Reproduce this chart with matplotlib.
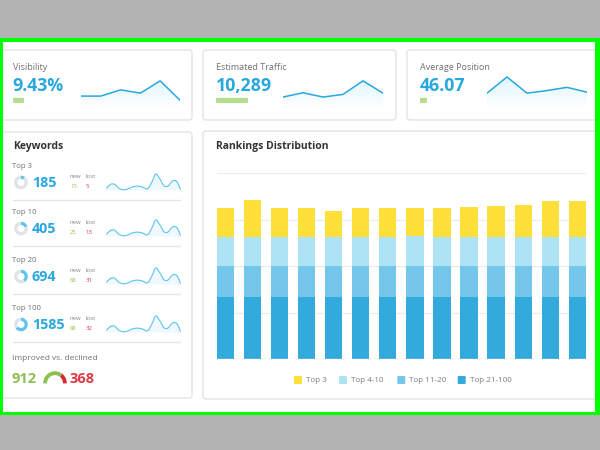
import matplotlib
matplotlib.use("Agg")
import matplotlib.pyplot as plt
import numpy as np
from matplotlib.patches import Rectangle, FancyBboxPatch, Wedge, PathPatch, Polygon
from matplotlib.path import Path
from matplotlib.colors import LinearSegmentedColormap

plt.rcParams["font.family"] = ["Open Sans", "DejaVu Sans"]

# ---- data ----
metric_names = ["Visibility", "Estimated Traffic", "Average Position"]
metric_values = ["9.43%", "10,289", "46.07"]
metric_trend = [11, 32, 7]
visibility_spark = [12.3, 12.3, 18.7, 15.3, 28.0, 8.0]
traffic_spark = [11.3, 15.7, 11.3, 14.0, 28.0, 15.3]
position_spark = [15.3, 32.0, 15.3, 18.0, 21.3, 16.3]

kw_labels = ["Top 3", "Top 10", "Top 20", "Top 100"]
kw_counts = ["185", "405", "694", "1585"]
kw_new = ["15", "25", "68", "88"]
kw_lost = ["5", "13", "31", "32"]
kw_share = [0.10, 0.20, 0.40, 0.65]
kw_spark = [2, 6, 6, 2.3, 0.7, 1.3, 3, 4.1, 4.1, 3, 1.7, 8, 16, 11, 4.5, 4.5, 9, 9, 1]

improved = 912
declined = 368

rank_groups = ["Top 3", "Top 4-10", "Top 11-20", "Top 21-100"]
top21_100 = [66.5, 66.5, 66.5, 66.5, 66.5, 66.5, 66.5, 66.5, 66.5, 67, 66.5, 66.5, 66.5, 66.5]
top11_20 = [33.3] * 14
top4_10 = [31.2, 31.2, 31.2, 31.2, 31.2, 31.2, 31.2, 32, 31.2, 31.2, 31.2, 31.2, 31.2, 31.2]
top3 = [31, 39.5, 31.5, 31.5, 28, 31, 31.5, 31, 31, 32, 33.7, 34.7, 38.7, 38.7]

BLUE = "#29a7df"
LIGHT_LINE = "#5bc3ec"
GREEN = "#8cc152"
RED = "#da3b44"
GREY_TXT = "#707070"
rank_colors = ["#ffe03b", "#aee3f6", "#74c7eb", "#33aadc"]

W, H = 600, 450
fig = plt.figure(figsize=(6, 4.5), dpi=100, facecolor="#b3b3b3")
base = fig.add_axes([0, 0, 1, 1])
base.set_xlim(0, W)
base.set_ylim(H, 0)
base.axis("off")

fade = LinearSegmentedColormap.from_list("fade", ["#ffffff", "#dff5fc"])


def px_axes(x, y, w, h):
    return fig.add_axes([x / W, 1 - (y + h) / H, w / W, h / H])


def card(x, y, w, h):
    base.add_patch(FancyBboxPatch((x, y), w, h, boxstyle="round,pad=0,rounding_size=3",
                                  facecolor="white", edgecolor="#e0e0e0", lw=0.9, zorder=2))


def smooth_path(xs, ys, close_to=None):
    pts = np.column_stack([xs, ys])
    n = len(pts)
    verts = [pts[0]]
    codes = [Path.MOVETO]
    for i in range(n - 1):
        p0 = pts[max(i - 1, 0)]
        p1 = pts[i]
        p2 = pts[i + 1]
        p3 = pts[min(i + 2, n - 1)]
        verts += [p1 + (p2 - p0) / 6, p2 - (p3 - p1) / 6, p2]
        codes += [Path.CURVE4] * 3
    if close_to is not None:
        verts += [(xs[-1], close_to), (xs[0], close_to), pts[0]]
        codes += [Path.LINETO, Path.LINETO, Path.CLOSEPOLY]
    return Path(verts, codes)


# white page with green frame
base.add_patch(Rectangle((0, 38), 600, 377, facecolor="#00ff00", edgecolor="none", zorder=0))
base.add_patch(Rectangle((3, 42), 592, 369.5, facecolor="white", edgecolor="none", zorder=1))

# ---- metric cards ----
card_x = [-5, 203, 407]
card_w = [197, 193, 200]
spark_x = [81, 283, 487]
spark_w = [99, 100, 100]
sparks = [visibility_spark, traffic_spark, position_spark]
for i in range(3):
    cx = card_x[i]
    card(cx, 50, card_w[i], 70)
    tx = 13 if i == 0 else cx + 13
    base.text(tx, 67, metric_names[i], fontsize=6.5, color=GREY_TXT, va="center", zorder=3)
    base.text(tx - 0.5, 86, metric_values[i], fontsize=12.8, color=BLUE, weight="bold",
              va="center", zorder=3)
    base.add_patch(FancyBboxPatch((tx, 97.8), metric_trend[i], 5.3,
                                  boxstyle="round,pad=0,rounding_size=1",
                                  facecolor="#b6dc8e", edgecolor="none", zorder=3))
    sa = px_axes(spark_x[i], 76, spark_w[i], 32)
    sa.axis("off")
    n = len(sparks[i])
    xs = np.arange(n)
    poly = Polygon(list(zip(xs, sparks[i])) + [(n - 1, 0), (0, 0)], closed=True,
                   facecolor="none", edgecolor="none")
    sa.add_patch(poly)
    grad = sa.imshow(np.linspace(0, 1, 64).reshape(-1, 1), cmap=fade, aspect="auto",
                     extent=(0, n - 1, 0, 30), origin="lower", zorder=1)
    grad.set_clip_path(poly)
    sa.plot(xs, sparks[i], color=BLUE, lw=1.1, zorder=2)
    sa.set_xlim(0, n - 1)
    sa.set_ylim(0, 33)

# ---- keywords card ----
card(-5, 132, 197, 266)
base.text(12.7, 147, "Keywords", fontsize=7.5, weight="bold", color="#333333", va="center", zorder=3)
row_tops = [166, 212, 260, 308]
for i, ry in enumerate(row_tops):
    base.text(12.5, ry, kw_labels[i], fontsize=5.6, color=GREY_TXT, va="center", zorder=3)
    da = px_axes(12.5, ry + 8, 17, 17)
    da.pie([kw_share[i], 1 - kw_share[i]], colors=["#61c3ee", "#dde3e8"], startangle=90,
           counterclock=False, wedgeprops=dict(width=0.48, edgecolor="none"))
    da.set_aspect("equal")
    base.text(32, ry + 17, kw_counts[i], fontsize=10.3, color=BLUE, weight="bold",
              va="center", zorder=3)
    base.text(70, ry + 10.5, "new", fontsize=4.3, color="#888888", va="center", zorder=3)
    base.text(85.5, ry + 10.5, "lost", fontsize=4.3, color="#888888", va="center", zorder=3)
    base.text(70, ry + 20, kw_new[i], fontsize=4.3, color=GREEN, va="center", zorder=3)
    base.text(85.5, ry + 20, kw_lost[i], fontsize=4.3, color=RED, va="center", zorder=3)
    ka = px_axes(106, ry + 7, 75, 18)
    ka.axis("off")
    xs = np.arange(len(kw_spark), dtype=float)
    ys = np.array(kw_spark, dtype=float)
    ka.add_patch(PathPatch(smooth_path(xs, ys, close_to=0), facecolor="#eff9fd",
                           edgecolor="none"))
    ka.add_patch(PathPatch(smooth_path(xs, ys), facecolor="none", edgecolor=LIGHT_LINE, lw=0.8))
    ka.set_xlim(-0.1, len(kw_spark) - 0.9)
    ka.set_ylim(-0.5, 17)
    base.plot([13, 180], [ry + 33.5, ry + 33.5], color="#e6e6e6", lw=1, zorder=3)

base.text(12, 358, "Improved vs. declined", fontsize=6, color=GREY_TXT, va="center", zorder=3)
base.text(11.5, 379, str(improved), fontsize=10.5, color=GREEN, weight="bold",
          va="center", zorder=3)
base.text(70, 379, str(declined), fontsize=10.5, color=RED, weight="bold",
          va="center", zorder=3)
ga = px_axes(42, 370, 26, 14)
ga.axis("off")
split = 180 * declined / (improved + declined)
ga.add_patch(Wedge((0, 0), 1, split, 180, width=0.32, facecolor=GREEN, edgecolor="none"))
ga.add_patch(Wedge((0, 0), 1, 0, split, width=0.32, facecolor="#d9262f", edgecolor="none"))
ga.set_xlim(-1.1, 1.1)
ga.set_ylim(-0.05, 1.1)

# ---- rankings distribution ----
card(203, 131, 402, 268)
base.text(216.5, 147, "Rankings Distribution", fontsize=7.5, weight="bold", color="#333333",
          va="center", zorder=3)
ra = px_axes(216.7, 173, 369.3, 186)
xs = np.arange(len(top3))
for y in [50, 100, 150, 200]:
    ra.axhline(y, color="#ececec", lw=0.9, zorder=0)
bottom = np.zeros(len(xs))
for vals, col in zip([top21_100, top11_20, top4_10, top3], rank_colors[::-1]):
    ra.bar(xs, vals, width=0.64, bottom=bottom, color=col, edgecolor="none", zorder=2)
    bottom += np.array(vals)
ra.axhline(0, color="#dddddd", lw=1, zorder=3)
ra.set_xlim(-0.32, len(xs) - 0.68)
ra.set_ylim(0, 200)
ra.axis("off")

leg_sq = [294, 339, 397.3, 457.7]
for lx, name, col in zip(leg_sq, rank_groups, rank_colors):
    base.add_patch(FancyBboxPatch((lx, 376), 8, 8, boxstyle="round,pad=0,rounding_size=1",
                                  facecolor=col, edgecolor="none", zorder=3))
    base.text(lx + 12, 380.5, name, fontsize=5.8, color="#7a7a7a", va="center", zorder=3)

# green frame over the clipped card edges
for r in [(0, 38, 600, 4), (0, 38, 3, 377), (595, 38, 5, 377), (0, 411.5, 600, 3.5)]:
    base.add_patch(Rectangle(r[:2], r[2], r[3], facecolor="#00ff00", edgecolor="none", zorder=10))

fig.savefig("out.png", dpi=100, facecolor=fig.get_facecolor())
